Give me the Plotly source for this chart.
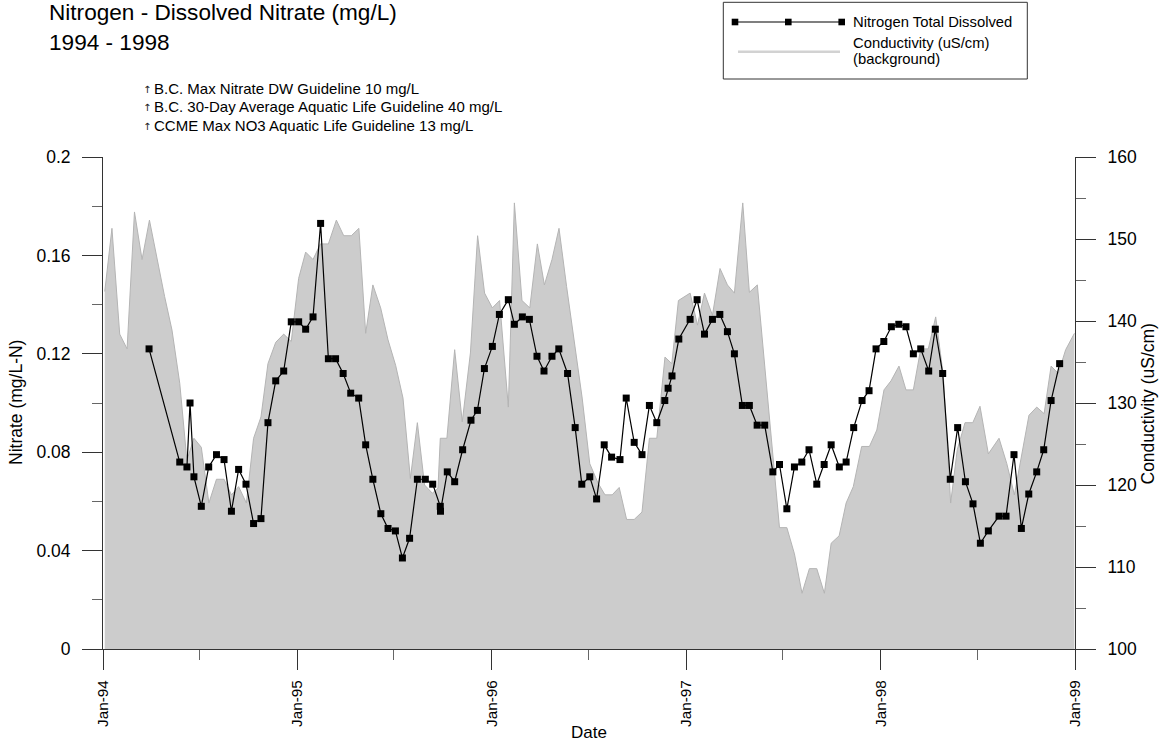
import numpy as np
import pandas as pd
import plotly.graph_objects as go

# ---------------- data (sample dates as decimal years) ----------------
nitrate_year_1994 = [1994.237, 1994.395, 1994.432, 1994.448, 1994.468, 1994.506, 1994.544, 1994.584, 1994.623,
                     1994.661, 1994.698, 1994.736, 1994.775, 1994.813, 1994.849, 1994.889, 1994.930, 1994.969]
nitrate_val_1994 = [0.122, 0.076, 0.074, 0.100, 0.070, 0.058, 0.074, 0.079, 0.077,
                    0.056, 0.073, 0.067, 0.051, 0.053, 0.092, 0.109, 0.113, 0.133]
nitrate_year_1995 = [1995.007, 1995.043, 1995.081, 1995.120, 1995.160, 1995.197, 1995.236, 1995.275, 1995.316,
                     1995.352, 1995.389, 1995.430, 1995.467, 1995.505, 1995.541, 1995.578, 1995.618, 1995.659,
                     1995.697, 1995.736, 1995.737, 1995.772, 1995.810, 1995.851, 1995.894, 1995.927, 1995.963]
nitrate_val_1995 = [0.133, 0.130, 0.135, 0.173, 0.118, 0.118, 0.112, 0.104, 0.102,
                    0.083, 0.069, 0.055, 0.049, 0.048, 0.037, 0.045, 0.069, 0.069,
                    0.067, 0.058, 0.056, 0.072, 0.068, 0.081, 0.093, 0.097, 0.114]
nitrate_year_1996 = [1996.004, 1996.040, 1996.086, 1996.117, 1996.158, 1996.194, 1996.233, 1996.269, 1996.310,
                     1996.345, 1996.390, 1996.429, 1996.463, 1996.504, 1996.539, 1996.578, 1996.616, 1996.659,
                     1996.691, 1996.732, 1996.772, 1996.810, 1996.848, 1996.889, 1996.906, 1996.926, 1996.961]
nitrate_val_1996 = [0.123, 0.136, 0.142, 0.132, 0.135, 0.134, 0.119, 0.113, 0.119,
                    0.122, 0.112, 0.090, 0.067, 0.070, 0.061, 0.083, 0.078, 0.077,
                    0.102, 0.084, 0.079, 0.099, 0.092, 0.101, 0.106, 0.111, 0.126]
nitrate_year_1997 = [1997.019, 1997.055, 1997.093, 1997.134, 1997.172, 1997.211, 1997.247, 1997.288, 1997.324,
                     1997.364, 1997.403, 1997.445, 1997.479, 1997.517, 1997.556, 1997.594, 1997.631, 1997.671,
                     1997.709, 1997.745, 1997.787, 1997.822, 1997.861, 1997.904, 1997.940, 1997.976]
nitrate_val_1997 = [0.134, 0.142, 0.128, 0.134, 0.136, 0.129, 0.120, 0.099, 0.099,
                    0.091, 0.091, 0.072, 0.075, 0.057, 0.074, 0.076, 0.081, 0.067,
                    0.075, 0.083, 0.074, 0.076, 0.090, 0.101, 0.105, 0.122]
nitrate_year_1998 = [1998.016, 1998.055, 1998.093, 1998.130, 1998.168, 1998.206, 1998.247, 1998.281, 1998.319,
                     1998.358, 1998.396, 1998.436, 1998.475, 1998.513, 1998.554, 1998.609, 1998.645, 1998.686,
                     1998.724, 1998.762, 1998.803, 1998.839, 1998.877, 1998.921]
nitrate_val_1998 = [0.125, 0.131, 0.132, 0.131, 0.120, 0.122, 0.113, 0.130, 0.112,
                    0.069, 0.090, 0.068, 0.059, 0.043, 0.048, 0.054, 0.054, 0.079,
                    0.049, 0.063, 0.072, 0.081, 0.101, 0.116]

cond_year_1994 = [1994.009, 1994.046, 1994.086, 1994.124, 1994.162, 1994.201, 1994.239, 1994.278, 1994.317,
                  1994.355, 1994.395, 1994.432, 1994.468, 1994.506, 1994.545, 1994.584, 1994.623, 1994.661,
                  1994.698, 1994.738, 1994.775, 1994.813, 1994.849, 1994.889, 1994.930, 1994.969]
cond_val_1994 = [143.6, 151.3, 138.4, 136.6, 153.3, 147.5, 152.3, 147.5, 143.0,
                 138.9, 132.4, 123.0, 125.7, 124.6, 117.8, 120.7, 120.7, 118.8,
                 119.8, 117.8, 125.7, 128.3, 134.8, 137.4, 138.4, 137.5]
cond_year_1995 = [1995.007, 1995.043, 1995.081, 1995.119, 1995.160, 1995.201, 1995.239, 1995.278, 1995.317,
                  1995.352, 1995.389, 1995.429, 1995.467, 1995.506, 1995.544, 1995.582, 1995.618, 1995.655,
                  1995.695, 1995.724, 1995.736, 1995.770, 1995.810, 1995.849, 1995.891, 1995.928, 1995.964]
cond_val_1995 = [145.2, 148.4, 147.5, 149.4, 149.4, 152.3, 150.4, 150.4, 151.3,
                 138.5, 144.4, 141.6, 137.7, 134.6, 130.6, 120.8, 127.6, 120.0,
                 119.0, 119.6, 125.7, 125.7, 136.5, 127.7, 136.1, 150.4, 143.4]
cond_year_1996 = [1996.004, 1996.041, 1996.086, 1996.117, 1996.156, 1996.196, 1996.235, 1996.271, 1996.310,
                  1996.346, 1996.385, 1996.427, 1996.465, 1996.504, 1996.547, 1996.582, 1996.619, 1996.655,
                  1996.693, 1996.732, 1996.772, 1996.810, 1996.848, 1996.890, 1996.925, 1996.959]
cond_val_1996 = [141.6, 142.5, 129.5, 154.4, 142.5, 141.6, 149.4, 144.4, 147.5,
                 151.3, 144.2, 137.3, 130.6, 122.6, 120.2, 118.8, 118.8, 119.7,
                 115.8, 115.8, 116.7, 125.7, 125.7, 135.6, 134.8, 142.5]
cond_year_1997 = [1997.019, 1997.057, 1997.093, 1997.134, 1997.173, 1997.211, 1997.247, 1997.290, 1997.324,
                  1997.365, 1997.405, 1997.445, 1997.479, 1997.517, 1997.556, 1997.595, 1997.633, 1997.671,
                  1997.710, 1997.745, 1997.786, 1997.822, 1997.859, 1997.902, 1997.942, 1997.980]
cond_val_1997 = [143.4, 139.5, 143.4, 140.7, 146.4, 144.4, 143.4, 154.4, 143.5,
                 144.4, 134.0, 123.4, 114.8, 114.8, 111.6, 106.8, 109.8, 109.8,
                 106.8, 112.9, 113.8, 117.8, 119.8, 124.7, 124.7, 126.7]
cond_year_1998 = [1998.017, 1998.053, 1998.094, 1998.130, 1998.168, 1998.206, 1998.245, 1998.283, 1998.322,
                  1998.360, 1998.394, 1998.434, 1998.474, 1998.511, 1998.554, 1998.609, 1998.649, 1998.688,
                  1998.726, 1998.763, 1998.803, 1998.841, 1998.877, 1998.914, 1998.952, 1998.997]
cond_val_1998 = [131.6, 132.7, 134.5, 131.6, 131.6, 136.6, 136.6, 140.5, 133.4,
                 117.8, 124.3, 127.6, 127.6, 129.6, 123.8, 125.7, 122.6, 118.8,
                 123.9, 128.5, 129.5, 128.7, 134.5, 133.6, 136.5, 138.5]

x_tick_years = [1994, 1995, 1996, 1997, 1998, 1999]

title_lines = ["Nitrogen - Dissolved Nitrate (mg/L)", "1994 - 1998"]
guideline_texts = ["B.C. Max Nitrate DW Guideline 10 mg/L",
                   "B.C. 30-Day Average Aquatic Life Guideline 40 mg/L",
                   "CCME Max NO3 Aquatic Life Guideline 13 mg/L"]
legend_nitrate = "Nitrogen Total Dissolved"
legend_cond = ["Conductivity (uS/cm)", "(background)"]


def year_to_date(y):
    yr = int(np.floor(y))
    start = pd.Timestamp(year=yr, month=1, day=1)
    end = pd.Timestamp(year=yr + 1, month=1, day=1)
    return start + (end - start) * (y - yr)


nit_years = nitrate_year_1994 + nitrate_year_1995 + nitrate_year_1996 + nitrate_year_1997 + nitrate_year_1998
nit_vals = nitrate_val_1994 + nitrate_val_1995 + nitrate_val_1996 + nitrate_val_1997 + nitrate_val_1998
cond_years = cond_year_1994 + cond_year_1995 + cond_year_1996 + cond_year_1997 + cond_year_1998
cond_vals = cond_val_1994 + cond_val_1995 + cond_val_1996 + cond_val_1997 + cond_val_1998

nit_dates = [year_to_date(y) for y in nit_years]
cond_dates = [year_to_date(y) for y in cond_years]

# ---------------- layout geometry ----------------
W, H = 1159, 744
ML, MR, MT, MB = 103, 84, 157, 95
PW, PH = W - ML - MR, H - MT - MB
FONT = "Liberation Sans, Arial, Helvetica, sans-serif"
AX = "#333333"


def px(x):
    return (x - ML) / PW


def py(y):
    return (H - MB - y) / PH


fig = go.Figure()

fig.add_trace(go.Scatter(
    x=cond_dates, y=cond_vals, yaxis="y", mode="lines", fill="tozeroy",
    fillcolor="#cccccc", line=dict(color="#b4b4b4", width=1),
    showlegend=False, hoverinfo="skip"))

fig.add_trace(go.Scatter(
    x=nit_dates, y=nit_vals, yaxis="y2", mode="lines+markers",
    line=dict(color="black", width=1.2),
    marker=dict(symbol="square", size=7, color="black"),
    showlegend=False))

fig.update_layout(
    width=W, height=H,
    margin=dict(l=ML, r=MR, t=MT, b=MB, autoexpand=False),
    paper_bgcolor="white", plot_bgcolor="white",
    font=dict(family=FONT, color="black"),
    showlegend=False,
    xaxis=dict(
        type="date", range=[f"{x_tick_years[0]}-01-01", f"{x_tick_years[-1]}-01-01"],
        tickmode="array", tickvals=[f"{y}-01-01" for y in x_tick_years],
        tickformat="%b-%y", tickangle=-90, tickfont=dict(size=15.3),
        ticklabelstandoff=4,
        showline=True, linecolor=AX, linewidth=1,
        ticks="outside", ticklen=20, tickcolor=AX, tickwidth=1,
        minor=dict(ticks="outside", ticklen=10, tickcolor="#666666", tickwidth=1,
                   dtick="M6", tick0="1994-01-01", showgrid=False),
        showgrid=False, zeroline=False, anchor="y"),
    yaxis=dict(
        side="right", range=[100, 160], tickmode="linear", tick0=100, dtick=10,
        tickfont=dict(size=17.5), ticklabelstandoff=8,
        showline=True, linecolor=AX, linewidth=1,
        ticks="outside", ticklen=20, tickcolor=AX, tickwidth=1,
        minor=dict(ticks="outside", ticklen=10, tickcolor="#666666", tickwidth=1,
                   dtick=5, tick0=100, showgrid=False),
        showgrid=False, zeroline=False, anchor="x"),
    yaxis2=dict(
        side="left", overlaying="y", range=[0, 0.2], tickmode="linear", tick0=0, dtick=0.04,
        tickfont=dict(size=17.5), ticklabelstandoff=8,
        showline=True, linecolor=AX, linewidth=1,
        ticks="outside", ticklen=20, tickcolor=AX, tickwidth=1,
        minor=dict(ticks="outside", ticklen=10, tickcolor="#666666", tickwidth=1,
                   dtick=0.02, tick0=0, showgrid=False),
        showgrid=False, zeroline=False, anchor="x"),
)

ann = []
# title
for text, base in zip(title_lines, [20.7, 50.7]):
    ann.append(dict(text=text, x=px(47), y=py(base - 0.3465 * 22.6), xref="paper", yref="paper",
                    xanchor="left", yanchor="middle", showarrow=False,
                    font=dict(size=22.6, family=FONT, color="black")))
# guideline notes (small arrow marker + text)
for text, base in zip(guideline_texts, [93.3, 112.0, 130.7]):
    ann.append(dict(text="\u2191", x=px(146.7), y=py(base - 4.2), xref="paper", yref="paper",
                    xanchor="center", yanchor="middle", showarrow=False,
                    font=dict(size=10, family="DejaVu Sans", color="#222222")))
    ann.append(dict(text=text, x=px(152), y=py(base - 0.3465 * 15), xref="paper", yref="paper",
                    xanchor="left", yanchor="middle", showarrow=False,
                    font=dict(size=15, family=FONT, color="black")))
# axis titles
ann.append(dict(text="Nitrate (mg/L-N)", x=px(16), y=py(403), xref="paper", yref="paper",
                xanchor="center", yanchor="middle", textangle=-90, showarrow=False,
                font=dict(size=17.5, family=FONT, color="black")))
ann.append(dict(text="Conductivity (uS/cm)", x=px(1147.5), y=py(404), xref="paper", yref="paper",
                xanchor="center", yanchor="middle", textangle=-90, showarrow=False,
                font=dict(size=17.5, family=FONT, color="black")))
ann.append(dict(text="Date", x=px(589), y=py(732), xref="paper", yref="paper",
                xanchor="center", yanchor="middle", showarrow=False,
                font=dict(size=17, family=FONT, color="black")))
# legend texts
ann.append(dict(text=legend_nitrate, x=px(851), y=py(26.7 - 0.3465 * 14.8), xref="paper", yref="paper",
                xanchor="left", yanchor="middle", showarrow=False,
                font=dict(size=14.8, family=FONT, color="black")))
for text, base in zip(legend_cond, [48.3, 64.0]):
    ann.append(dict(text=text, x=px(851), y=py(base - 0.3465 * 14.8), xref="paper", yref="paper",
                    xanchor="left", yanchor="middle", showarrow=False,
                    font=dict(size=14.8, family=FONT, color="black")))

shapes = []
# legend box
shapes.append(dict(type="rect", xref="paper", yref="paper", x0=px(723.3), x1=px(1027.3),
                   y0=py(79), y1=py(2.3), line=dict(color="#333333", width=1), fillcolor="white",
                   layer="above"))
# legend nitrate sample
shapes.append(dict(type="line", xref="paper", yref="paper", x0=px(735), x1=px(841.7),
                   y0=py(22), y1=py(22), line=dict(color="black", width=1.2), layer="above"))
for cx in [735, 788.3, 841.7]:
    shapes.append(dict(type="rect", xref="paper", yref="paper", x0=px(cx - 3.3), x1=px(cx + 3.3),
                       y0=py(22 + 3.3), y1=py(22 - 3.3), line=dict(width=0), fillcolor="black",
                       layer="above"))
# legend conductivity sample
shapes.append(dict(type="line", xref="paper", yref="paper", x0=px(738), x1=px(840),
                   y0=py(51.7), y1=py(51.7), line=dict(color="#d2d2d2", width=2.5), layer="above"))

fig.update_layout(annotations=ann, shapes=shapes)

fig.write_html("out.html",
               config={"displayModeBar": False},
               post_script="document.body.style.margin='0';document.body.style.padding='0';"
                           "document.documentElement.style.overflow='hidden';")
